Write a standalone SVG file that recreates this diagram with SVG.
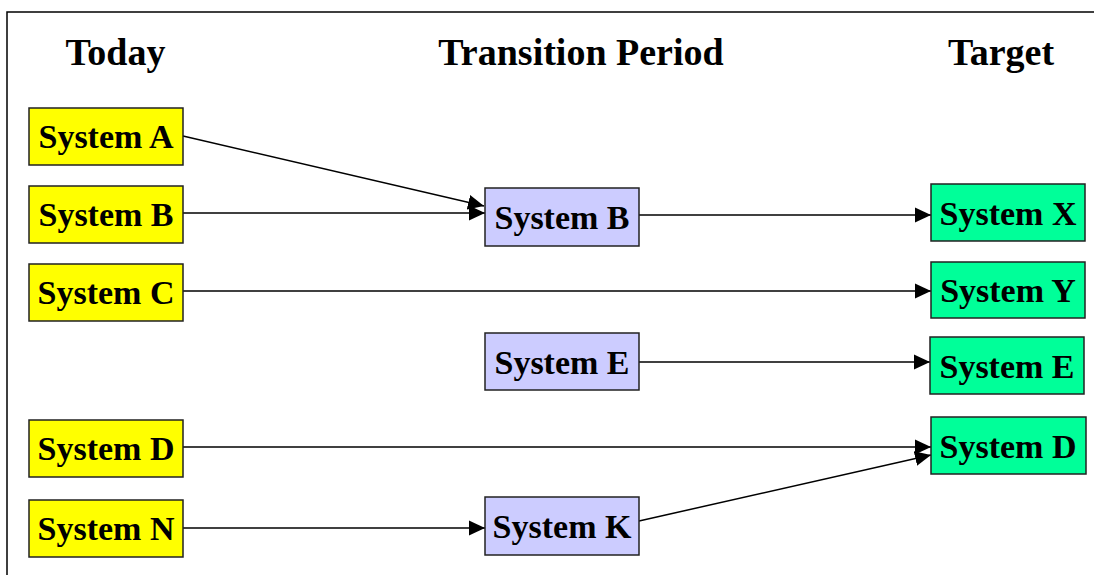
<svg xmlns="http://www.w3.org/2000/svg" width="1094" height="575" viewBox="0 0 1094 575">
<style>
.hdr{font-family:"Liberation Serif","Times New Roman",serif;font-weight:bold;font-size:38px;fill:#000;text-anchor:middle}
.lbl{font-family:"Liberation Serif","Times New Roman",serif;font-weight:bold;font-size:34px;fill:#000;text-anchor:middle}
.box{stroke:#222;stroke-width:1.5}
.today{fill:#FFFF00}
.trans{fill:#CCCCFF}
.target{fill:#00FF99}
.conn{stroke:#000;stroke-width:1.5;fill:none;marker-end:url(#arr)}
</style>
<defs>
<marker id="arr" markerUnits="userSpaceOnUse" markerWidth="17" markerHeight="16" refX="16" refY="8" orient="auto">
<path d="M0,0.5 L16,8 L0,15.5 Z" fill="#000"/>
</marker>
</defs>
<rect x="0" y="0" width="1094" height="575" fill="#fff"/>
<rect x="7" y="12" width="1100" height="600" fill="none" stroke="#000" stroke-width="1.5"/>
<g id="headers">
<text class="hdr" x="115.5" y="65">Today</text>
<text class="hdr" x="581" y="65">Transition Period</text>
<text class="hdr" x="1001" y="65">Target</text>
</g>
<g id="connectors">
<line class="conn" x1="183" y1="136" x2="484" y2="206"/>
<line class="conn" x1="183" y1="213" x2="485" y2="213"/>
<line class="conn" x1="639" y1="215" x2="931" y2="215"/>
<line class="conn" x1="183" y1="291" x2="931" y2="291"/>
<line class="conn" x1="639" y1="362" x2="930" y2="362"/>
<line class="conn" x1="183" y1="447" x2="931" y2="447"/>
<line class="conn" x1="183" y1="528" x2="485" y2="528"/>
<line class="conn" x1="639" y1="521" x2="931" y2="455"/>
</g>
<g id="todayA"><rect class="box today" x="29" y="108" width="154" height="57"/><text class="lbl" x="106" y="148">System A</text></g>
<g id="todayB"><rect class="box today" x="29" y="186" width="154" height="57"/><text class="lbl" x="106" y="226">System B</text></g>
<g id="todayC"><rect class="box today" x="29" y="264" width="154" height="57"/><text class="lbl" x="106" y="304">System C</text></g>
<g id="todayD"><rect class="box today" x="29" y="420" width="154" height="57"/><text class="lbl" x="106" y="460">System D</text></g>
<g id="todayN"><rect class="box today" x="29" y="500" width="154" height="57"/><text class="lbl" x="106" y="540">System N</text></g>
<g id="transB"><rect class="box trans" x="485" y="188" width="154" height="58"/><text class="lbl" x="562" y="229">System B</text></g>
<g id="transE"><rect class="box trans" x="485" y="333" width="154" height="57"/><text class="lbl" x="562" y="374">System E</text></g>
<g id="transK"><rect class="box trans" x="485" y="497" width="154" height="58"/><text class="lbl" x="562" y="538">System K</text></g>
<g id="targetX"><rect class="box target" x="931" y="184" width="154" height="57"/><text class="lbl" x="1008" y="225">System X</text></g>
<g id="targetY"><rect class="box target" x="931" y="262" width="154" height="56"/><text class="lbl" x="1008" y="302">System Y</text></g>
<g id="targetE"><rect class="box target" x="930" y="337" width="154" height="57"/><text class="lbl" x="1007" y="378">System E</text></g>
<g id="targetD"><rect class="box target" x="931" y="417" width="155" height="57"/><text class="lbl" x="1008" y="458">System D</text></g>
</svg>
